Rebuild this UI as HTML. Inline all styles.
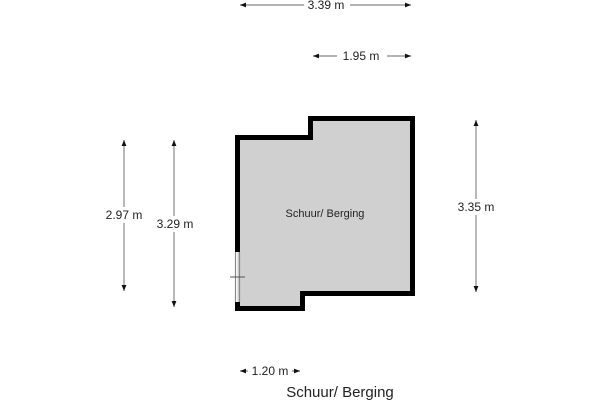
<!DOCTYPE html>
<html><head><style>
html,body{margin:0;padding:0;background:#fff;width:600px;height:400px;overflow:hidden}
svg{display:block}
text{font-family:"Liberation Sans",Arial,sans-serif;fill:#222}
</style></head><body>
<svg width="600" height="400" viewBox="0 0 600 400" xmlns="http://www.w3.org/2000/svg">
<defs>
<marker id="a" viewBox="0 0 10 10" refX="10" refY="5" markerWidth="5" markerHeight="5" orient="auto-start-reverse"><path d="M0,1 L10,5 L0,9z" fill="#111"/></marker>
</defs>
<polygon points="237.5,137.5 310.5,137.5 310.5,118.5 412.5,118.5 412.5,293.5 302.5,293.5 302.5,308.5 237.5,308.5" fill="#d0d0d0"/>
<polyline points="237.5,252 237.5,137.5 310.5,137.5 310.5,118.5 412.5,118.5 412.5,293.5 302.5,293.5 302.5,308.5 237.5,308.5 237.5,302" fill="none" stroke="#000" stroke-width="5" stroke-linejoin="miter"/>
<line x1="235.5" y1="252" x2="235.5" y2="302" stroke="#888" stroke-width="1.2"/>
<line x1="239.5" y1="252" x2="239.5" y2="302" stroke="#888" stroke-width="1.2"/>
<line x1="230" y1="277" x2="245" y2="277" stroke="#555" stroke-width="1"/>
<text x="325" y="217" font-size="11" text-anchor="middle">Schuur/ Berging</text>
<g stroke="#888" stroke-width="1.2" fill="none">
<line x1="240" y1="5" x2="411" y2="5" marker-start="url(#a)" marker-end="url(#a)"/>
<line x1="313" y1="56" x2="411" y2="56" marker-start="url(#a)" marker-end="url(#a)"/>
<line x1="124" y1="140" x2="124" y2="291" marker-start="url(#a)" marker-end="url(#a)"/>
<line x1="174" y1="140" x2="174" y2="307" marker-start="url(#a)" marker-end="url(#a)"/>
<line x1="476" y1="120" x2="476" y2="292" marker-start="url(#a)" marker-end="url(#a)"/>
<line x1="240" y1="371" x2="300" y2="371" marker-start="url(#a)" marker-end="url(#a)"/>
</g>
<g fill="#fff">
<rect x="304" y="-2" width="46" height="14"/>
<rect x="337" y="49" width="50" height="14"/>
<rect x="100" y="207" width="48" height="16"/>
<rect x="152" y="216" width="46" height="16"/>
<rect x="453" y="199" width="46" height="16"/>
<rect x="248" y="364" width="44" height="14"/>
</g>
<g font-size="12" text-anchor="middle">
<text x="326" y="9">3.39 m</text>
<text x="361" y="60">1.95 m</text>
<text x="124" y="219">2.97 m</text>
<text x="175" y="228">3.29 m</text>
<text x="476" y="211">3.35 m</text>
<text x="270" y="375">1.20 m</text>
</g>
<text x="340" y="397" font-size="15" text-anchor="middle">Schuur/ Berging</text>
</svg>
</body></html>
